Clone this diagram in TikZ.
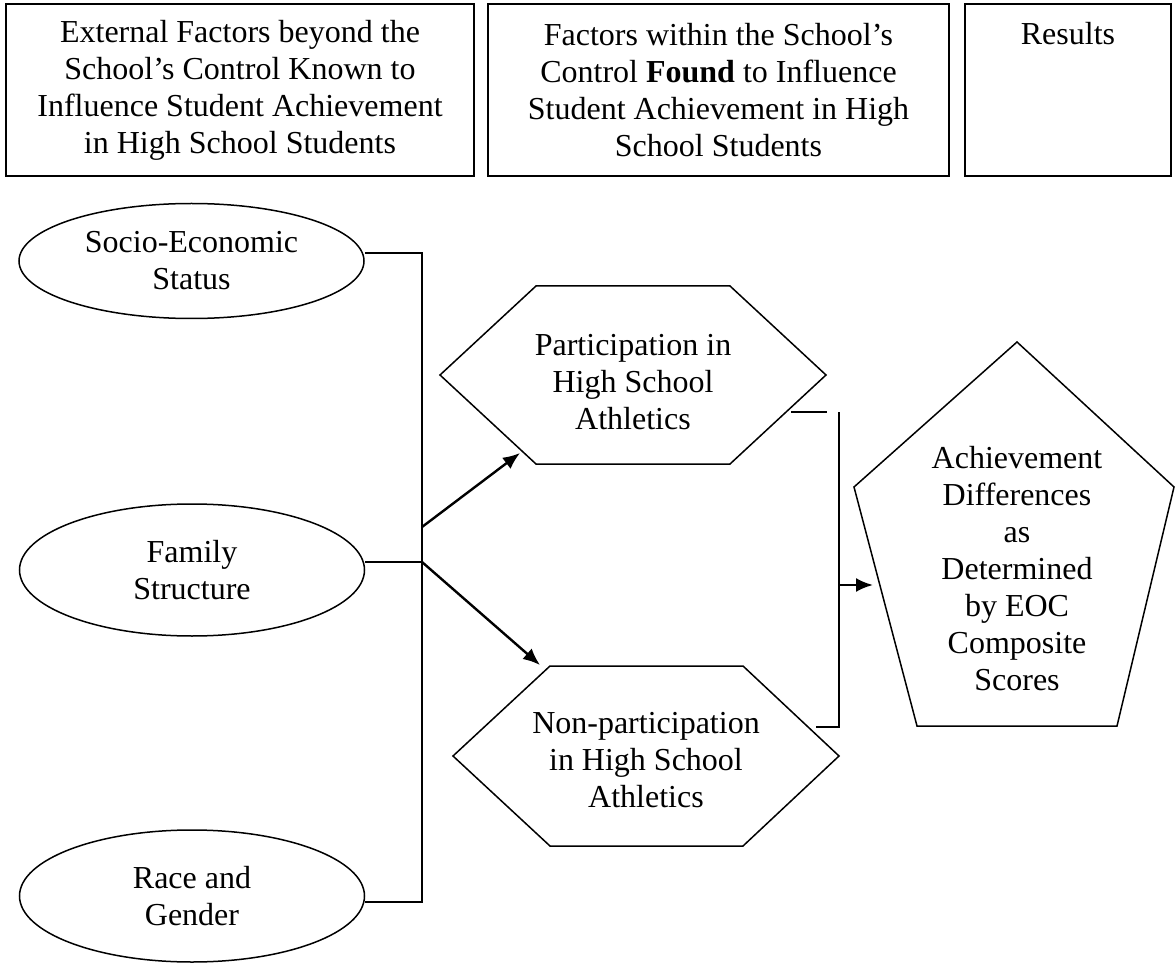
\documentclass[tikz,border=0pt]{standalone}
\usepackage{fontspec}
\setmainfont{Liberation Serif}
\usetikzlibrary{shapes.geometric,arrows.meta}
\tikzset{
  headbox/.style={draw,line width=1.5pt,inner sep=0pt,minimum height=172pt,align=center},
  factor/.style={ellipse,draw,line width=1.5pt,inner sep=0pt,minimum width=345pt,align=center},
  txt/.style={align=center,inner sep=0pt},
  link/.style={line width=1.5pt},
  push/.style={line width=2.4pt,-{Latex[length=17pt,width=14pt]}}
}
\begin{document}
\begin{tikzpicture}[x=1pt,y=-1pt,font=\fontsize{32}{37}\selectfont]
\useasboundingbox (0,0) rectangle (1175,973);
\node[headbox,minimum width=468pt] (ext) at (240,90) {External Factors beyond the\\School's Control Known to\\Influence Student Achievement\\in High School Students};
\node[headbox,minimum width=461pt] (within) at (718.5,90) {Factors within the School's\\Control \textbf{Found} to Influence\\Student Achievement in High\\School Students};
\node[headbox,minimum width=206pt] (resbox) at (1068,90) {};
\node[anchor=base] (res) at (1068,45) {Results};
\node[factor,minimum height=115pt] (ses) at (191.5,261) {Socio-Economic\\Status};
\node[factor,minimum height=132pt] (fam) at (192,570) {Family\\Structure};
\node[factor,minimum height=132pt] (race) at (192,896) {Race and\\Gender};
\draw[link] (440,375) -- (536,286) -- (730,286) -- (826,375) -- (730,464) -- (536,464) -- cycle;
\draw[link] (453,756) -- (550,666) -- (743,666) -- (839,756) -- (743,846) -- (550,846) -- cycle;
\draw[link] (1017,342) -- (1174,487) -- (1117,726) -- (917,726) -- (854,487) -- cycle;
\node[txt] (part) at (633,382) {Participation in\\High School\\Athletics};
\node[txt] (nonpart) at (646,760) {Non-participation\\in High School\\Athletics};
\node[txt] (ach) at (1017,569) {Achievement\\Differences\\as\\Determined\\by EOC\\Composite\\Scores};
\coordinate (ttop) at (422,253);
\coordinate (tup) at (422,527);
\coordinate (tmid) at (422,562);
\coordinate (tbot) at (422,902);
\coordinate (parttip) at (520,453);
\coordinate (nontip) at (540,665);
\coordinate (pout) at (791,412);
\coordinate (pend) at (827,412);
\coordinate (rtop) at (839,412);
\coordinate (rmid) at (839,585);
\coordinate (rbot) at (839,727);
\coordinate (nout) at (816,727);
\coordinate (achtip) at (873,585);
\draw[link] (ses.east |- ttop) -- (ttop) -- (tbot) -- (race.east |- tbot);
\draw[link] (fam.east |- tmid) -- (tmid);
\draw[push] (tup) -- (parttip);
\draw[push] (tmid) -- (nontip);
\draw[link] (pout) -- (pend);
\draw[link] (rtop) -- (rbot) -- (nout);
\draw[push] (rmid) -- (achtip);
\end{tikzpicture}
\end{document}
